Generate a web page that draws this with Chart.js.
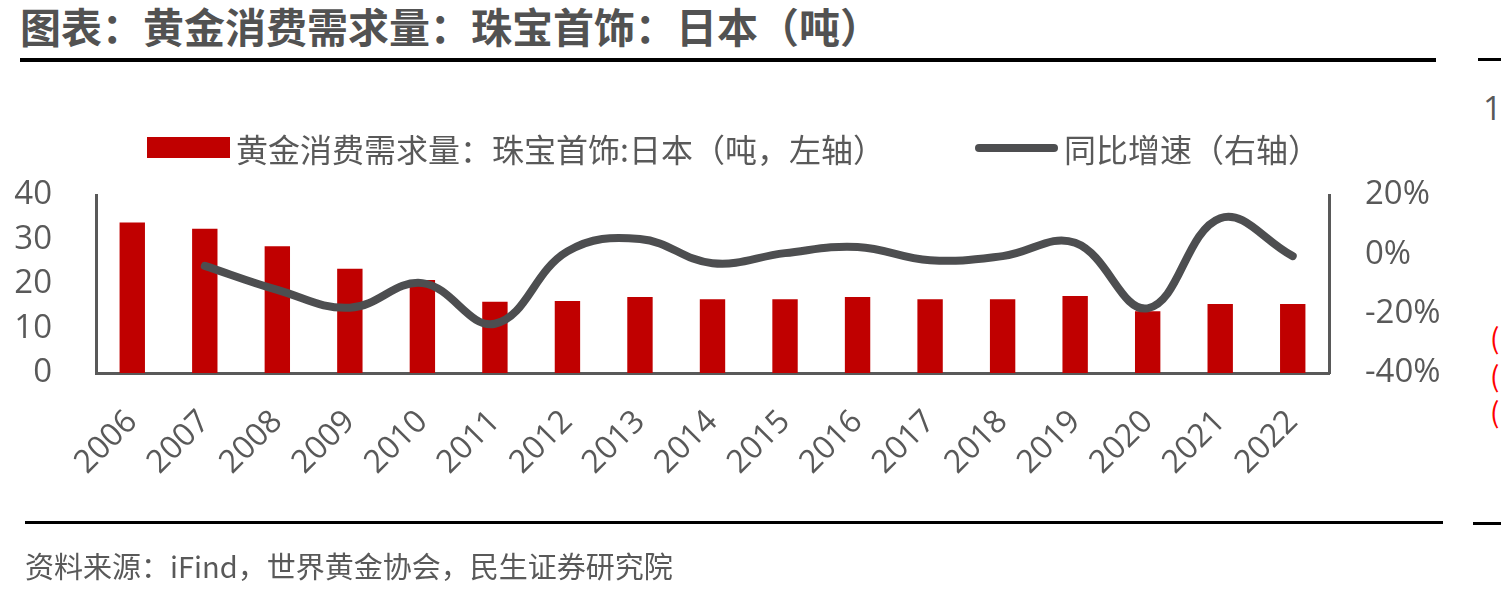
<!DOCTYPE html>
<html>
<head>
<meta charset="utf-8">
<script src="https://cdn.jsdelivr.net/npm/chart.js@4.4.0/dist/chart.umd.min.js"></script>
<style>
  body { margin: 0; width: 1501px; height: 595px; background: #fff; overflow: hidden; position: relative;
         font-family: "Noto Sans CJK SC", "Open Sans", sans-serif; color: #595959; }
  .abs { position: absolute; white-space: nowrap; }
  #title { left: 20px; top: 0px; font-size: 41px; line-height: 50px; font-weight: bold; color: #525252; }
  .rule { position: absolute; background: #000; }
  #chartBox { position: absolute; left: 0; top: 0; width: 1460px; height: 595px; }
  .legText { font-size: 32px; line-height: 40px; top: 128px; color: #595959; }
  #source { left: 25px; top: 546px; font-size: 29px; line-height: 38px; color: #595959; }
  .edge { color: #ff0000; font-size: 28px; line-height: 30px; }
</style>
</head>
<body>
<div id="title" class="abs">图表：黄金消费需求量：珠宝首饰：日本（吨）</div>
<div class="rule" style="left:20px;top:58px;width:1416px;height:4px;"></div>
<div class="rule" style="left:1478px;top:58px;width:23px;height:3px;"></div>

<div id="chartBox"><canvas id="goldChart" width="1460" height="595"></canvas></div>

<!-- legend -->
<div class="abs" style="left:147px;top:137px;width:83px;height:21px;background:#C00000;"></div>
<div class="abs legText" style="left:236px;">黄金消费需求量：珠宝首饰:日本（吨，左轴）</div>
<div class="abs" style="left:975px;top:144px;width:83px;height:8px;border-radius:4px;background:#4D4E50;"></div>
<div class="abs legText" style="left:1064px;">同比增速（右轴）</div>

<div class="rule" style="left:25px;top:521px;width:1418px;height:3px;"></div>
<div class="rule" style="left:1473px;top:522px;width:28px;height:3px;"></div>
<div id="source" class="abs">资料来源：iFind，世界黄金协会，民生证券研究院</div>

<!-- clipped neighbour panel -->
<div class="abs" style="left:1483px;top:88px;font-size:33px;line-height:40px;color:#595959;font-family:'Open Sans';">1</div>
<div class="abs edge" style="left:1490px;top:322px;">(</div>
<div class="abs edge" style="left:1490px;top:360px;">(</div>
<div class="abs edge" style="left:1490px;top:396px;">(</div>

<script>
const years = ["2006", "2007", "2008", "2009", "2010", "2011", "2012", "2013", "2014",
  "2015", "2016", "2017", "2018", "2019", "2020", "2021", "2022"];
// 黄金消费需求量：珠宝首饰：日本（吨）
const demandTons = [33.8, 32.4, 28.5, 23.4, 20.9, 16.0, 16.2, 17.1, 16.6,
  16.6, 17.1, 16.6, 16.6, 17.3, 13.9, 15.5, 15.5];
// 同比增速 (%)
const yoyGrowth = [null, -3.9, -12.0, -18.0, -9.7, -23.4, 1.0, 5.2, -3.0,
  0.4, 2.5, -2.0, -0.6, 3.9, -18.2, 12.2, -0.6];

const axisGrey = "#595959";
const tickFont = { family: '"Open Sans", "Noto Sans CJK SC", sans-serif', size: 33 };

Chart.defaults.font.family = tickFont.family;
Chart.defaults.color = axisGrey;

const ctx = document.getElementById("goldChart").getContext("2d");
const goldChart = new Chart(ctx, {
  type: "bar",
  data: {
    labels: years,
    datasets: [
      {
        type: "bar",
        label: "黄金消费需求量：珠宝首饰:日本（吨，左轴）",
        data: demandTons,
        backgroundColor: "#C00000",
        barPercentage: 1,
        categoryPercentage: 0.35,
        yAxisID: "y",
        order: 1,
      },
      {
        type: "line",
        label: "同比增速（右轴）",
        data: yoyGrowth,
        borderColor: "#4D4E50",
        borderWidth: 8,
        borderCapStyle: "round",
        borderJoinStyle: "round",
        tension: 0.4,
        pointRadius: 0,
        fill: false,
        yAxisID: "y1",
        order: 0,
      },
    ],
  },
  options: {
    responsive: false,
    animation: false,
    devicePixelRatio: 1,
    layout: { padding: { top: 195, left: 0, right: 0, bottom: 0 } },
    scales: {
      x: {
        grid: { display: false },
        border: { display: true, color: axisGrey, width: 3 },
        ticks: {
          font: { size: 32 },
          color: axisGrey,
          maxRotation: 45,
          minRotation: 45,
          autoSkip: false,
          padding: 22,
        },
        afterFit: (scale) => { scale.height = 222; },
      },
      y: {
        position: "left",
        min: 0,
        max: 40,
        grid: { display: false, drawTicks: false },
        border: { display: true, color: axisGrey, width: 3 },
        ticks: { stepSize: 10, font: tickFont, color: axisGrey, padding: 44 },
        afterFit: (scale) => { scale.width = 96; },
      },
      y1: {
        position: "right",
        min: -40,
        max: 20,
        grid: { display: false, drawTicks: false },
        border: { display: true, color: axisGrey, width: 3 },
        ticks: {
          stepSize: 20,
          font: tickFont,
          color: axisGrey,
          padding: 36,
          callback: (v) => v + "%",
        },
        afterFit: (scale) => { scale.width = 131; },
      },
    },
    plugins: {
      legend: { display: false },
      tooltip: { enabled: false },
    },
  },
});
</script>
</body>
</html>
